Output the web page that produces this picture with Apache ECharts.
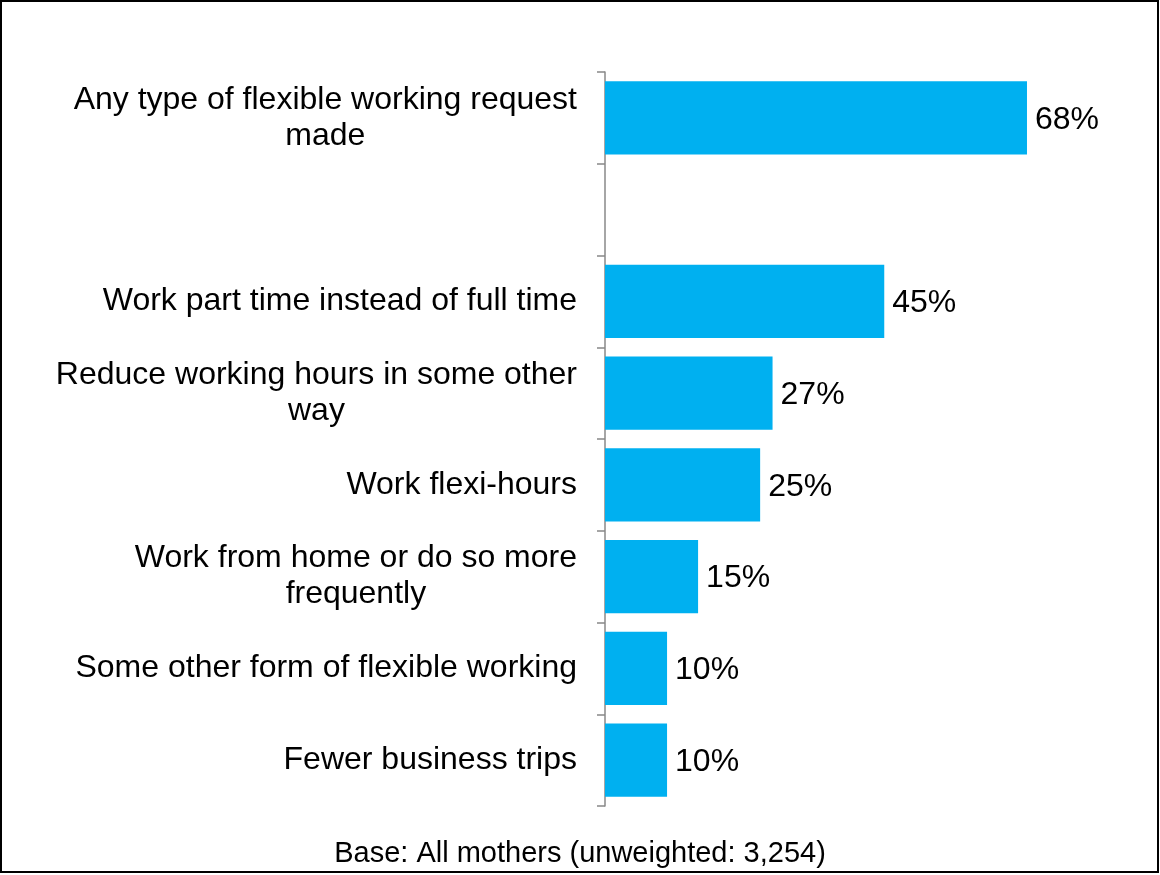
<!DOCTYPE html>
<html><head><meta charset="utf-8">
<script src="https://cdn.jsdelivr.net/npm/echarts@6/dist/echarts.min.js"></script>
<style>html,body{margin:0;padding:0;background:#fff}#c{width:1160px;height:875px}</style>
</head><body><div id="c"></div>
<script>
const categories = [
  'Any type of flexible working request\nmade',
  '',
  'Work part time instead of full time',
  'Reduce working hours in some other\nway',
  'Work flexi-hours',
  'Work from home or do so more\nfrequently',
  'Some other form of flexible working',
  'Fewer business trips'
];
const values = [68, null, 45, 27, 25, 15, 10, 10];
const footnote = 'Base: All mothers (unweighted: 3,254)';

const FONT = '"Liberation Sans", Arial, sans-serif';
const chart = echarts.init(document.getElementById('c'));
chart.setOption({
  animation: false,
  backgroundColor: '#fff',
  title: {
    text: footnote, left: 'center', top: 834,
    textStyle: { fontFamily: FONT, fontSize: 29, fontWeight: 'normal', color: '#000' }
  },
  graphic: [{
    type: 'rect', shape: { x: 1, y: 1, width: 1157, height: 871 },
    style: { fill: 'none', stroke: '#000', lineWidth: 2 }, silent: true
  }],
  grid: { left: 605, top: 72, bottom: 69, right: 120.6, containLabel: false },
  xAxis: { type: 'value', min: 0, max: 70, show: false },
  yAxis: {
    type: 'category', inverse: true, data: categories,
    axisLine: { show: true, lineStyle: { color: '#888', width: 1.5 } },
    axisTick: { show: true, inside: false, length: 8, alignWithLabel: false, lineStyle: { color: '#888', width: 1.5 } },
    axisLabel: {
      margin: 28, fontFamily: FONT, fontSize: 32, color: '#000', lineHeight: 36,
      formatter: function (v) {
        if (!v) return '';
        return v.split('\n').map(l => '{c|' + l + '}').join('\n');
      },
      rich: { c: { align: 'center', fontFamily: FONT, fontSize: 32, color: '#000', lineHeight: 36 } }
    }
  },
  series: [{
    type: 'bar', data: values, barCategoryGap: '20%',
    itemStyle: { color: '#00B0F0' },
    label: {
      show: true, position: 'right', distance: 8, offset: [0, 2],
      formatter: p => p.value + '%',
      fontFamily: FONT, fontSize: 32, color: '#000'
    }
  }]
});
</script></body></html>
